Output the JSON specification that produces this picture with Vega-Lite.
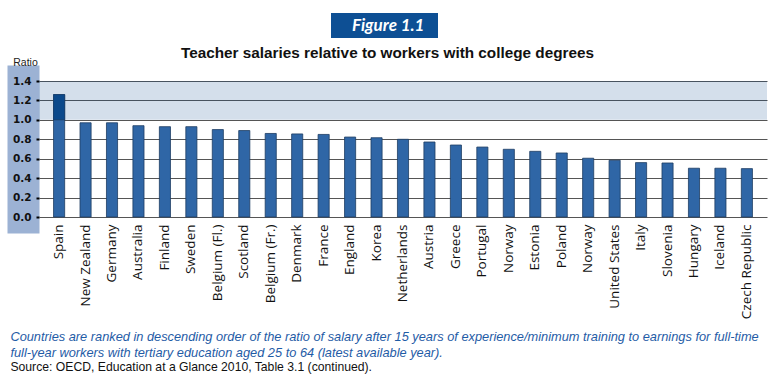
{
  "$schema": "https://vega.github.io/schema/vega-lite/v6.json",
  "width": 728,
  "height": 136,
  "padding": {"left": 10, "top": 13, "right": 3, "bottom": 4},
  "background": "white",
  "config": {"view": {"stroke": null}},
  "title": {
    "text": ["Countries are ranked in descending order of  the ratio of salary after 15 years of experience/minimum training to earnings for full-time", "full-year workers with tertiary education aged 25 to 64 (latest available year)."],
    "subtitle": "Source: OECD, Education at a Glance 2010, Table 3.1 (continued).",
    "orient": "bottom",
    "anchor": "start",
    "frame": "bounds",
    "dx": -2,
    "font": "Liberation Sans",
    "fontSize": 12.8,
    "fontStyle": "italic",
    "fontWeight": "normal",
    "color": "#1f5ca6",
    "lineHeight": 16,
    "offset": 12,
    "subtitleFont": "Liberation Sans",
    "subtitleFontSize": 12.2,
    "subtitleColor": "#111111",
    "subtitlePadding": 2
  },
  "data": {
    "values": [
      {"country": "Spain", "ratio": 1.26},
      {"country": "New Zealand", "ratio": 0.97},
      {"country": "Germany", "ratio": 0.97},
      {"country": "Australia", "ratio": 0.94},
      {"country": "Finland", "ratio": 0.93},
      {"country": "Sweden", "ratio": 0.93},
      {"country": "Belgium (Fl.)", "ratio": 0.9},
      {"country": "Scotland", "ratio": 0.89},
      {"country": "Belgium (Fr.)", "ratio": 0.86},
      {"country": "Denmark", "ratio": 0.855},
      {"country": "France", "ratio": 0.85},
      {"country": "England", "ratio": 0.823},
      {"country": "Korea", "ratio": 0.816},
      {"country": "Netherlands", "ratio": 0.8},
      {"country": "Austria", "ratio": 0.772},
      {"country": "Greece", "ratio": 0.741},
      {"country": "Portugal", "ratio": 0.72},
      {"country": "Norway", "ratio": 0.697},
      {"country": "Estonia", "ratio": 0.676},
      {"country": "Poland", "ratio": 0.659},
      {"country": "Norway\u200b", "ratio": 0.605},
      {"country": "United States", "ratio": 0.584},
      {"country": "Italy", "ratio": 0.56},
      {"country": "Slovenia", "ratio": 0.556},
      {"country": "Hungary", "ratio": 0.502},
      {"country": "Iceland", "ratio": 0.502},
      {"country": "Czech Republic", "ratio": 0.498}
    ]
  },
  "resolve": {"axis": {"y": "independent"}},
  "layer": [
    {
      "mark": {"type": "bar", "color": "#2f66a6", "stroke": "#1e3d63", "strokeWidth": 1, "strokeOpacity": 0.8},
      "encoding": {
        "x": {
          "field": "country", "type": "nominal", "sort": null,
          "scale": {"paddingInner": 0.58, "paddingOuter": 0.55},
          "axis": {
            "title": "Teacher salaries relative to workers with college degrees",
            "titleX": 348, "titleY": -160, "titleAlign": "center", "titleBaseline": "alphabetic",
            "titleFont": "Liberation Sans", "titleFontSize": 15.3, "titleFontWeight": "bold", "titleColor": "#111111",
            "labelAngle": -90, "labelFont": "Open Sans", "labelFontSize": 13.5, "labelColor": "#111111",
            "labelPadding": 7, "labelLimit": 200, "ticks": false, "domain": false, "grid": false
          }
        },
        "y": {
          "field": "ratio", "type": "quantitative", "title": "Ratio",
          "scale": {"domain": [0, 1.4], "nice": false},
          "axis": {
            "orient": "left",
            "titleAngle": 0, "titleX": 2, "titleY": -16, "titleAlign": "center", "titleBaseline": "alphabetic",
            "titleFont": "Liberation Sans", "titleFontSize": 10.5, "titleFontWeight": "normal", "titleColor": "#222222",
            "labels": false, "ticks": false, "grid": false,
            "offset": 16, "domain": true, "domainColor": "#9cb2d4", "domainWidth": 32, "domainCap": "square"
          }
        }
      }
    },
    {
      "transform": [{"filter": "datum.ratio > 1"}],
      "mark": {"type": "bar", "color": "#0b4a8b", "stroke": "#1e3d63", "strokeWidth": 1, "strokeOpacity": 0.8},
      "encoding": {
        "x": {"field": "country", "type": "nominal", "sort": null},
        "y": {"field": "ratio", "type": "quantitative", "title": "Ratio", "axis": null},
        "y2": {"datum": 1}
      }
    },
    {
      "data": {"values": [{"lo": 1.0, "hi": 1.4}]},
      "mark": {"type": "rect", "opacity": 0.175},
      "encoding": {
        "y": {
          "field": "lo", "type": "quantitative",
          "axis": {
            "orient": "left", "title": null,
            "values": [0, 0.2, 0.4, 0.6, 0.8, 1, 1.2, 1.4], "format": ".1f",
            "labelFont": "DejaVu Sans", "labelFontWeight": "bold", "labelFontSize": 10.5, "labelColor": "#111111", "labelPadding": 8,
            "labelOverlap": false,
            "offset": 16, "domain": false,
            "ticks": true, "tickSize": -16, "tickColor": "#000000", "tickWidth": 2, "tickDash": [0, 13, 3, 10],
            "grid": true, "gridColor": "#555555", "gridWidth": 1
          }
        },
        "y2": {"field": "hi"},
        "fill": {
          "datum": "Figure 1.1", "type": "nominal",
          "scale": {"range": ["#0b4a8b"]},
          "legend": {
            "orient": "none", "legendX": 292, "legendY": -68,
            "title": "\u00a0", "titleOrient": "right", "titlePadding": 10, "titleFontSize": 10, "titleColor": "#0d4f94",
            "fillColor": "#0d4f94", "padding": 4,
            "labelColor": "white", "labelFont": "Lato", "labelFontSize": 17, "labelFontWeight": "bold", "labelFontStyle": "italic",
            "symbolOpacity": 0, "symbolSize": 256, "symbolStrokeWidth": 0, "symbolFillColor": "#0d4f94", "labelOffset": 0
          }
        }
      }
    }
  ]
}
